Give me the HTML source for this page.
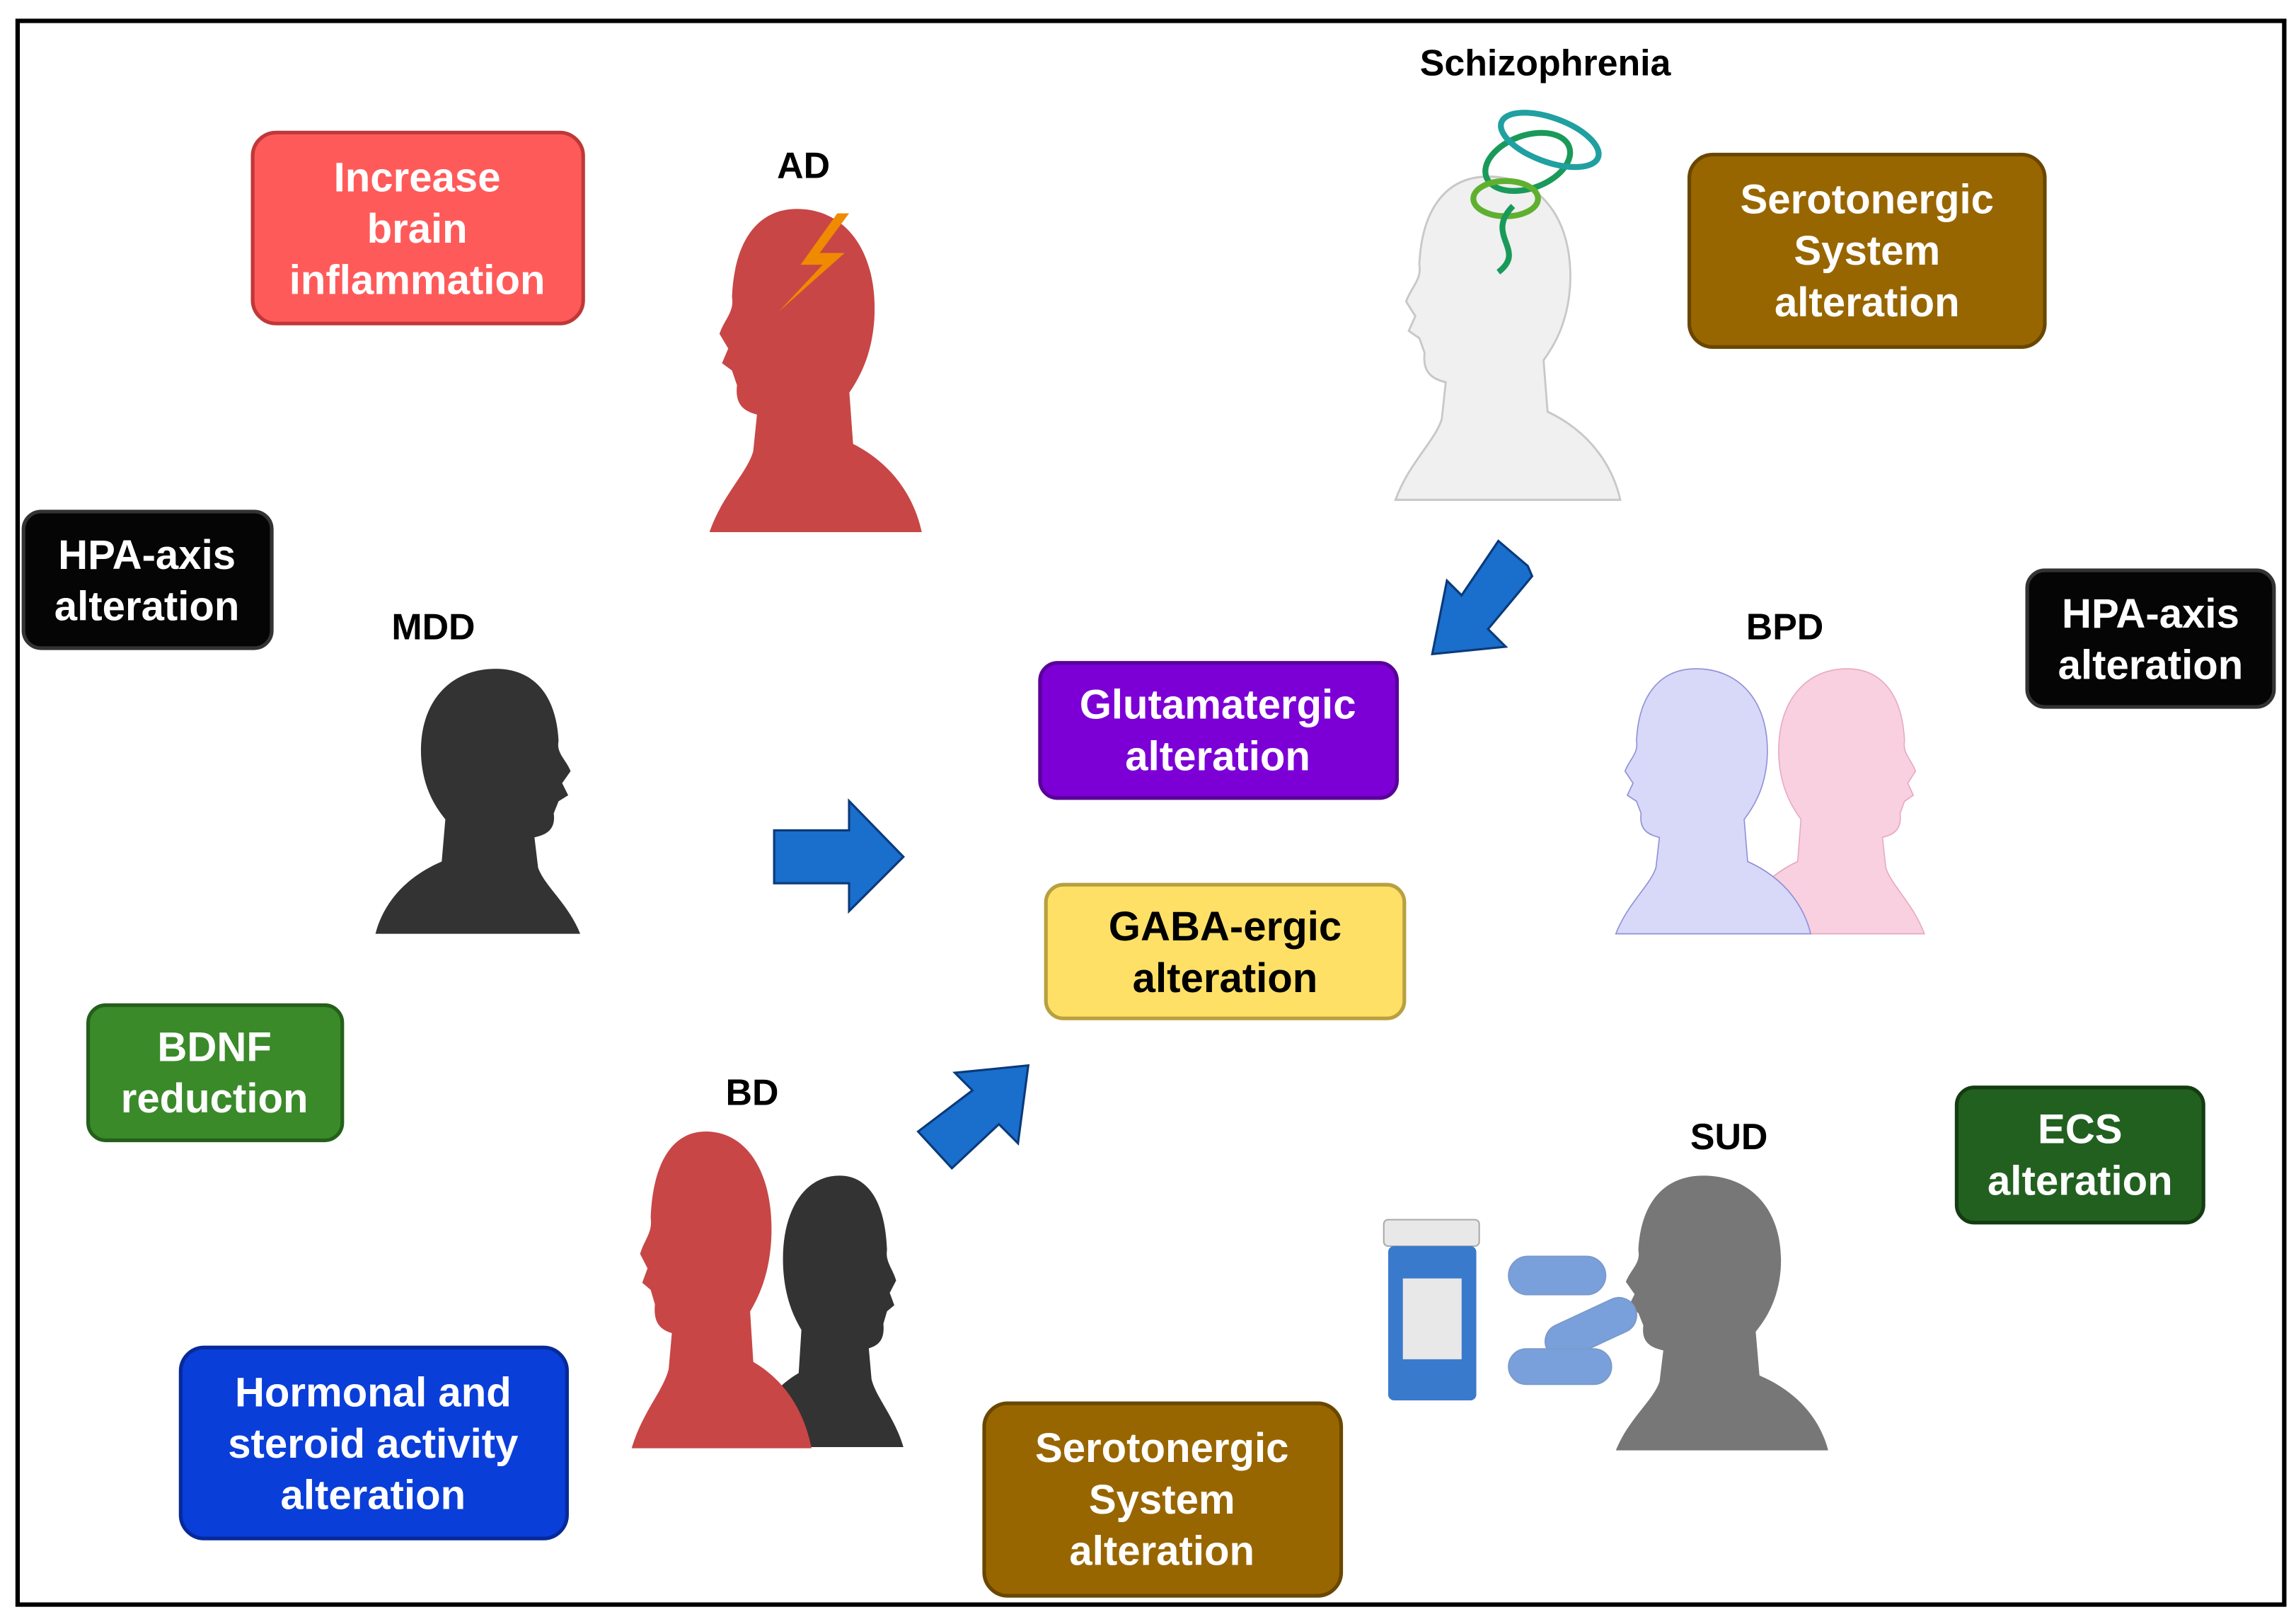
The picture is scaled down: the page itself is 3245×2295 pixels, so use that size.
<!DOCTYPE html>
<html><head><meta charset="utf-8"><style>
html,body{margin:0;padding:0;background:#fff;}
svg{display:block;}
text{font-family:"Liberation Sans",Arial,sans-serif;font-weight:bold;}
</style></head><body>
<svg width="3245" height="2295" viewBox="0 0 1563 1105" xmlns="http://www.w3.org/2000/svg">
<defs>
<path id="hd" d="M70,0 C110,0 135,30 132,75 C130,100 120,115 112,125 L115,160 C150,175 165,200 170,220 L0,220 C10,195 30,180 35,165 L38,140 C30,138 20,135 22,120 L18,110 L10,105 L15,95 L8,85 C12,75 20,70 18,60 C20,20 40,0 70,0 Z"/>
</defs>
<rect x="0" y="0" width="1563" height="1105" fill="#fff"/>
<rect x="12" y="14" width="1543" height="1078" fill="none" stroke="#000" stroke-width="3"/>

<g stroke-width="2.5">
<rect x="172" y="90" width="225" height="130" rx="16" fill="#FF5A5A" stroke="#c03838"/>
<rect x="1150" y="105" width="242" height="131" rx="16" fill="#986600" stroke="#6a4700"/>
<rect x="16" y="348" width="169" height="93" rx="12" fill="#050505" stroke="#333"/>
<rect x="1380" y="388" width="168" height="93" rx="12" fill="#050505" stroke="#333"/>
<rect x="708" y="451" width="243" height="92" rx="12" fill="#7C00D6" stroke="#5a009a"/>
<rect x="712" y="602" width="244" height="91" rx="12" fill="#FFE066" stroke="#b8a040"/>
<rect x="60" y="684" width="173" height="92" rx="12" fill="#3A8A2A" stroke="#24601a"/>
<rect x="1332" y="740" width="168" height="92" rx="12" fill="#226020" stroke="#143c12"/>
<rect x="123" y="917" width="263" height="130" rx="16" fill="#0A3ED8" stroke="#062a9a"/>
<rect x="670" y="955" width="243" height="131" rx="16" fill="#986600" stroke="#6a4700"/>
</g>
<g font-size="28" text-anchor="middle" fill="#fff">
<text x="284" y="130">Increase</text><text x="284" y="165">brain</text><text x="284" y="200">inflammation</text>
<text x="1271" y="145">Serotonergic</text><text x="1271" y="180">System</text><text x="1271" y="215">alteration</text>
<text x="100" y="387">HPA-axis</text><text x="100" y="422">alteration</text>
<text x="1464" y="427">HPA-axis</text><text x="1464" y="462">alteration</text>
<text x="829" y="489">Glutamatergic</text><text x="829" y="524">alteration</text>
<text x="834" y="640" fill="#000">GABA-ergic</text><text x="834" y="675" fill="#000">alteration</text>
<text x="146" y="722">BDNF</text><text x="146" y="757">reduction</text>
<text x="1416" y="778">ECS</text><text x="1416" y="813">alteration</text>
<text x="254" y="957">Hormonal and</text><text x="254" y="992">steroid activity</text><text x="254" y="1027">alteration</text>
<text x="791" y="995">Serotonergic</text><text x="791" y="1030">System</text><text x="791" y="1065">alteration</text>
</g>
<g font-size="25" text-anchor="middle" fill="#000">
<text x="547" y="121">AD</text><text x="1052" y="51">Schizophrenia</text><text x="295" y="435">MDD</text>
<text x="1215" y="435">BPD</text><text x="512" y="752">BD</text><text x="1177" y="782">SUD</text>
</g>

<use href="#hd" transform="translate(483,142) scale(0.85,1)" fill="#C84646"/>
<path d="M570,145 L545,180 L560,180 L530,212 L575,172 L558,172 L578,145 Z" fill="#F08A00"/>
<use href="#hd" transform="translate(950,120) scale(0.9,1)" fill="#F0F0F0" stroke="#c8c8c8" stroke-width="1.5"/>
<g fill="none" stroke="#1a9a5a" stroke-width="4">
<ellipse cx="1040" cy="110" rx="30" ry="18" transform="rotate(-20 1040 110)"/>
<ellipse cx="1055" cy="95" rx="35" ry="15" transform="rotate(20 1055 95)" stroke="#20a0a0"/>
<ellipse cx="1025" cy="135" rx="22" ry="12" stroke="#60b030"/>
<path d="M1030,140 C1010,160 1040,170 1020,185"/>
</g>
<use href="#hd" transform="translate(395,455) scale(-0.82,0.82)" fill="#333"/>
<use href="#hd" transform="translate(1310,455) scale(-0.75,0.82)" fill="#F8D0E0" stroke="#e8a8c0"/>
<use href="#hd" transform="translate(1100,455) scale(0.78,0.82)" fill="#D8D8F8" stroke="#9090d8"/>
<use href="#hd" transform="translate(615,800) scale(-0.62,0.84)" fill="#333"/>
<use href="#hd" transform="translate(430,770) scale(0.72,0.98)" fill="#C84646"/>
<use href="#hd" transform="translate(1100,800) scale(0.85,0.85)" fill="#777"/>
<rect x="942" y="830" width="65" height="18" rx="3" fill="#e8e8e8" stroke="#aaa"/>
<rect x="945" y="848" width="60" height="105" rx="4" fill="#3a7acc"/>
<rect x="955" y="870" width="40" height="55" fill="#e8e8e8"/>
<g stroke="#7a9acc" stroke-width="1">
<rect x="1027" y="855" width="66" height="26" rx="13" fill="#7aa0dc"/>
<rect x="1050" y="892" width="66" height="24" rx="12" fill="#7aa0dc" transform="rotate(-25 1083 904)"/>
<rect x="1027" y="918" width="70" height="24" rx="12" fill="#7aa0dc"/>
</g>

<path d="M527,565 L578,565 L578,545 L615,583 L578,620 L578,601 L527,601 Z" fill="#1A6ECC" stroke="#0a3a7a" stroke-width="1.5"/>
<path d="M1040,385 L1020,368 L995,405 L985,395 L975,445 L1025,440 L1013,428 L1043,392 Z" fill="#1A6ECC" stroke="#0a3a7a" stroke-width="1.5"/>
<path d="M625,770 L648,795 L680,765 L693,778 L700,725 L650,730 L662,742 Z" fill="#1A6ECC" stroke="#0a3a7a" stroke-width="1.5"/>
</svg>
</body></html>
